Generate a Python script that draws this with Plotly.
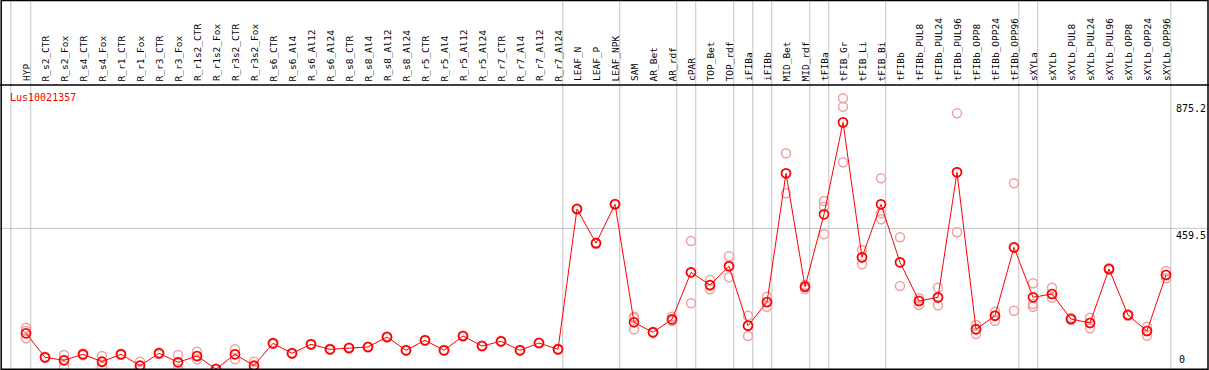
import plotly.graph_objects as go

gene_id = "Lus10021357"

categories = [
    "HYP", "R_s2_CTR", "R_s2_Fox", "R_s4_CTR", "R_s4_Fox", "R_r1_CTR", "R_r1_Fox",
    "R_r3_CTR", "R_r3_Fox", "R_r1s2_CTR", "R_r1s2_Fox", "R_r3s2_CTR", "R_r3s2_Fox",
    "R_s6_CTR", "R_s6_Al4", "R_s6_Al12", "R_s6_Al24", "R_s8_CTR", "R_s8_Al4",
    "R_s8_Al12", "R_s8_Al24", "R_r5_CTR", "R_r5_Al4", "R_r5_Al12", "R_r5_Al24",
    "R_r7_CTR", "R_r7_Al4", "R_r7_Al12", "R_r7_Al24", "LEAF_N", "LEAF_P", "LEAF_NPK",
    "SAM", "AR_Bet", "AR_rdf", "cPAR", "TOP_Bet", "TOP_rdf", "iFIBa", "iFIBb",
    "MID_Bet", "MID_rdf", "tFIBa", "tFIB_Gr", "tFIB_Li", "tFIB_Bi", "tFIBb",
    "tFIBb_PUL8", "tFIBb_PUL24", "tFIBb_PUL96", "tFIBb_OPP8", "tFIBb_OPP24",
    "tFIBb_OPP96", "sXYLa", "sXYLb", "sXYLb_PUL8", "sXYLb_PUL24", "sXYLb_PUL96",
    "sXYLb_OPP8", "sXYLb_OPP24", "sXYLb_OPP96",
]

mean_values = [
    116.6, 38.2, 28.4, 48.0, 23.8, 48.0, 10.8, 51.3, 21.9, 42.5, 0.0, 48.0, 10.8,
    83.9, 51.3, 80.7, 64.3, 68.6, 71.9, 104.5, 61.1, 93.7, 61.1, 107.8, 75.1,
    90.5, 61.1, 84.9, 64.3, 522.6, 410.9, 538.2,
    152.5, 119.9, 162.3, 315.8, 274.3, 335.4, 141.4, 218.8,
    639.2, 268.8, 505.3, 805.7, 364.8, 537.9, 348.5,
    222.1, 234.2, 642.4, 129.7, 173.8, 397.5,
    234.2, 245.0, 163.3, 150.2, 326.6, 176.4, 124.1, 307.0,
]

replicates = [
    [134.9, 124.1, 100.3], [36, 38, 40], [45.7, 29.4, 10.8], [45, 48, 51],
    [42.5, 22.9, 7.5], [46, 48, 50], [23.8, 9.8, 0.0], [49, 51, 54],
    [45.7, 22.9, 0.0], [56.5, 40.8, 31.7], [0, 0, 1], [64.3, 48.0, 31.7],
    [23.8, 6.5, 0.0], [82, 84, 86], [50, 51, 53], [79, 81, 82], [63, 64, 66],
    [67, 69, 70], [70, 72, 73], [103, 104, 106], [60, 61, 62], [92, 94, 95],
    [60, 61, 62], [106, 108, 109], [74, 75, 76], [89, 90, 92], [60, 61, 62],
    [84, 85, 86], [63, 64, 66], [521, 523, 524], [409, 411, 412], [537, 538, 540],
    [170.8, 166.6, 129.7], [118, 120, 122], [170.8, 160.0, 156.8],
    [418.0, 315.0, 214.6], [290.7, 272.7, 260.3], [368.1, 338.0, 299.5],
    [174.1, 142.0, 107.8], [236.1, 217.2, 203.4],
    [704.5, 638.5, 573.8], [274.3, 267.8, 261.3], [548.7, 530.1, 439.9],
    [884.1, 856.7, 675.1], [388.7, 364.2, 342.0], [622.8, 508.5, 488.9],
    [430.1, 347.8, 271.1],
    [230.9, 222.1, 209.0], [265.5, 231.9, 208.0], [835.1, 643.4, 446.5],
    [143.7, 130.6, 114.3], [187.1, 174.7, 156.8], [606.5, 395.2, 190.4],
    [279.9, 212.3, 203.5], [265.5, 245.0, 232.9], [160, 163, 167],
    [167.5, 150.2, 132.9], [323, 327, 330], [174, 176, 179],
    [138.2, 124.1, 108.8], [320.1, 307.0, 296.2],
]

# last category of each sample group (a separator is drawn after it)
group_last = ["HYP", "R_r7_Al24", "LEAF_NPK", "AR_rdf", "cPAR", "TOP_rdf", "iFIBa",
              "iFIBb", "MID_rdf", "tFIBa", "tFIB_Bi", "tFIBb_OPP96", "sXYLa",
              "sXYLb_OPP96"]

axis_max_label = 875.2
axis_mid_label = 459.5

# ---- figure geometry ----
W, H = 1209, 370
PX0, PXSTEP = 26, 19          # pixel of first category, spacing
HEADER_PX = 85                # header bottom line
BOTTOM_PX = 369

def py(px):
    return (H - px) / H

x_idx = list(range(len(categories)))
xr = [-PX0 / PXSTEP, (W - PX0) / PXSTEP]

rep_x, rep_y = [], []
for i, reps in enumerate(replicates):
    for v in reps:
        rep_x.append(i)
        rep_y.append(v)

fig = go.Figure()
fig.add_trace(go.Scatter(
    x=rep_x, y=rep_y, mode="markers",
    marker=dict(symbol="circle-open", size=9, color="#f0a0a0", line=dict(width=1.5)),
    hoverinfo="skip", showlegend=False, cliponaxis=False,
))
fig.add_trace(go.Scatter(
    x=x_idx, y=mean_values, mode="lines+markers",
    line=dict(color="#ff0000", width=1),
    marker=dict(symbol="circle-open", size=9, color="#ff0000", line=dict(width=1.7)),
    showlegend=False, cliponaxis=False,
))

shapes = []
sep_positions = [-0.8] + [categories.index(c) + 0.25 for c in group_last]
for s in sep_positions:
    shapes.append(dict(type="line", xref="x", yref="paper", x0=s, x1=s, y0=py(BOTTOM_PX), y1=1,
                       line=dict(color="#c4c4c4", width=1), layer="below"))
shapes.append(dict(type="line", xref="paper", yref="y", x0=0, x1=1,
                   y0=axis_mid_label, y1=axis_mid_label,
                   line=dict(color="#c4c4c4", width=1), layer="below"))
shapes.append(dict(type="line", xref="paper", yref="paper", x0=0, x1=1,
                   y0=py(HEADER_PX), y1=py(HEADER_PX), line=dict(color="black", width=1.5)))
shapes.append(dict(type="rect", xref="paper", yref="paper",
                   x0=1.2 / W, x1=(W - 1) / W, y0=py(BOTTOM_PX + 0.3), y1=1 - 0.5 / H,
                   line=dict(color="black", width=1.5)))

annotations = []
for i, c in enumerate(categories):
    annotations.append(dict(
        x=i, xref="x", y=py(HEADER_PX - 1.5), yref="paper", text=c, textangle=-90,
        xanchor="center", yanchor="bottom", showarrow=False,
        font=dict(family="DejaVu Sans Mono", size=9.5, color="black"),
    ))
annotations.append(dict(x=8 / W, xref="paper", y=py(97), yref="paper", text=gene_id,
                        xanchor="left", yanchor="middle", showarrow=False,
                        font=dict(family="DejaVu Sans Mono", size=10, color="red")))
for v in [axis_max_label, axis_mid_label]:
    annotations.append(dict(x=1.0, xref="paper", y=v, yref="y", text=f"{v}", xshift=-1,
                            xanchor="right", yanchor="top", showarrow=False,
                            font=dict(family="DejaVu Sans Mono", size=10, color="black")))
annotations.append(dict(x=1177 / W, xref="paper", y=0, yref="y", text="0", yshift=2,
                        xanchor="left", yanchor="bottom", showarrow=False,
                        font=dict(family="DejaVu Sans Mono", size=10, color="black")))

fig.update_layout(
    width=W, height=H, margin=dict(l=0, r=0, t=0, b=0),
    paper_bgcolor="white", plot_bgcolor="white",
    xaxis=dict(range=xr, showgrid=False, zeroline=False, showticklabels=False,
               ticks="", showline=False, fixedrange=True),
    yaxis=dict(range=[0, axis_max_label * 1.06], domain=[py(BOTTOM_PX), py(HEADER_PX)],
               showgrid=False, zeroline=False, showticklabels=False, ticks="",
               showline=False, fixedrange=True),
    shapes=shapes, annotations=annotations, showlegend=False,
)

fig.write_html(
    "out.html",
    config={"displayModeBar": False},
    post_script="document.body.style.margin='0';document.body.style.overflow='hidden';",
)
